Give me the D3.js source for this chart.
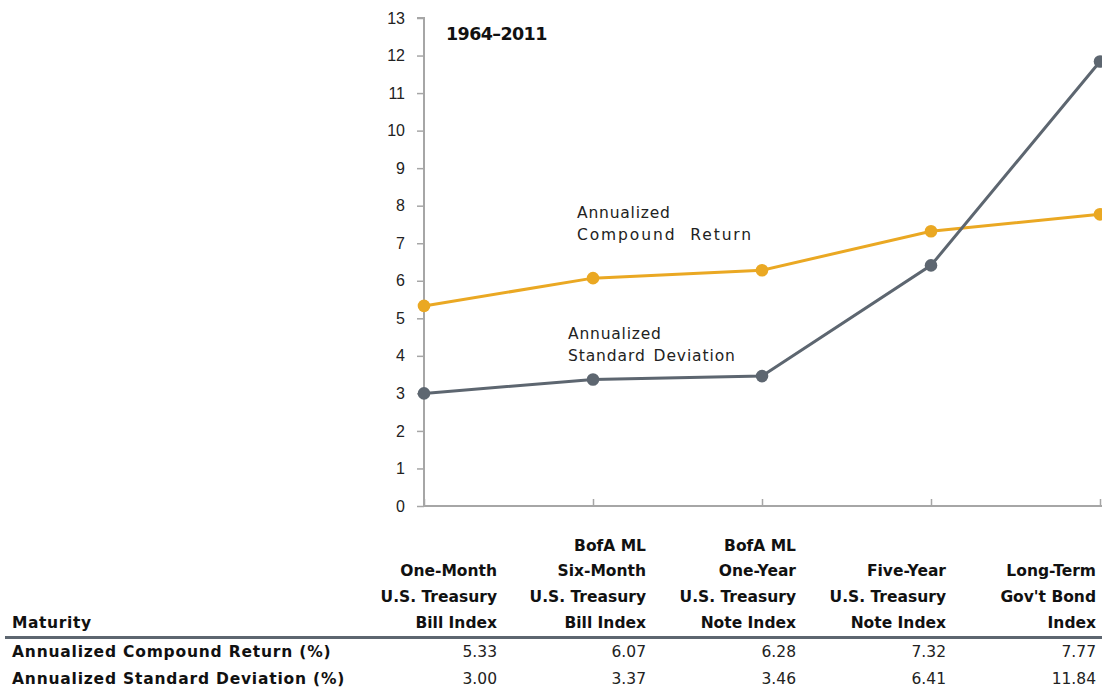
<!DOCTYPE html>
<html>
<head>
<meta charset="utf-8">
<script src="https://cdn.jsdelivr.net/npm/d3@7"></script>
<style>
  body { margin: 0; background: #fff; }
  svg { font-family: "DejaVu Sans", sans-serif; }
</style>
</head>
<body>
<div id="chart"></div>
<script>
// data
var indexNames = [
  ["One-Month", "U.S. Treasury", "Bill Index"],
  ["BofA ML", "Six-Month", "U.S. Treasury", "Bill Index"],
  ["BofA ML", "One-Year", "U.S. Treasury", "Note Index"],
  ["Five-Year", "U.S. Treasury", "Note Index"],
  ["Long-Term", "Gov't Bond", "Index"]
];
var compoundReturn = [5.33, 6.07, 6.28, 7.32, 7.77];
var stdDeviation = [3.00, 3.37, 3.46, 6.41, 11.84];
var yTicks = d3.range(0, 14);
var rowLabels = ["Annualized Compound Return (%)", "Annualized Standard Deviation (%)"];

var W = 1102, H = 690;
var orange = "#eaa823", slate = "#5d6670", axisGray = "#a6a6a6";

var svg = d3.select("#chart").append("svg")
  .attr("width", W)
  .attr("height", H);

var x = d3.scalePoint()
  .domain(d3.range(indexNames.length))
  .range([424, 1100]);

var y = d3.scaleLinear()
  .domain([0, 13])
  .range([506, 18]);

// y axis
var yAxis = svg.append("g")
  .attr("transform", "translate(424,0)")
  .call(d3.axisLeft(y).tickValues(yTicks).tickSize(7).tickPadding(12).tickFormat(d3.format("d")));
yAxis.select(".domain").attr("stroke", axisGray).attr("stroke-width", 2)
  .attr("d", "M-7," + y(13) + "H0V" + y(0));
yAxis.selectAll(".tick line").attr("stroke", axisGray).attr("stroke-width", 1.5);
yAxis.selectAll(".tick text")
  .attr("fill", "#222")
  .style("font-size", "16px");

// x axis, ticks pointing up
var xAxis = svg.append("g")
  .attr("transform", "translate(0,506)")
  .call(d3.axisBottom(x).tickSize(-7).tickFormat(""));
xAxis.select(".domain").attr("stroke", axisGray).attr("stroke-width", 2)
  .attr("d", "M424,0H1102");
xAxis.selectAll(".tick line").attr("stroke", axisGray).attr("stroke-width", 1.5);

// title
svg.append("text")
  .attr("x", 446).attr("y", 40)
  .attr("font-weight", "bold")
  .style("font-size", "17.5px")
  .style("letter-spacing", "-0.6px")
  .attr("fill", "#111")
  .text("1964\u20132011");

var line = d3.line()
  .x(function(d, i) { return x(i); })
  .y(function(d) { return y(d); });

function drawSeries(values, color) {
  svg.append("path")
    .datum(values)
    .attr("d", line)
    .attr("fill", "none")
    .attr("stroke", color)
    .attr("stroke-width", 3);
  svg.selectAll(null)
    .data(values)
    .enter().append("circle")
    .attr("cx", function(d, i) { return x(i); })
    .attr("cy", function(d) { return y(d); })
    .attr("r", 6.3)
    .attr("fill", color);
}
drawSeries(compoundReturn, orange);
drawSeries(stdDeviation, slate);

// series labels: [text, letter-spacing, word-spacing]
function seriesLabel(lines, lx, ly) {
  var t = svg.append("text")
    .attr("x", lx).attr("y", ly)
    .attr("fill", "#222")
    .style("font-size", "15.5px");
  lines.forEach(function(s, i) {
    t.append("tspan").attr("x", lx).attr("dy", i ? 22 : 0)
      .style("letter-spacing", s[1] + "px")
      .style("word-spacing", s[2] + "px")
      .text(s[0]);
  });
}
seriesLabel([["Annualized", 0.8, 0], ["Compound Return", 1.9, 7]], 577, 218);
seriesLabel([["Annualized", 0.8, 0], ["Standard Deviation", 0.9, 2]], 568, 339);

// table
var colRight = [497, 646, 796, 946, 1096];
var headerBase = 628, lineH = 25.8;

indexNames.forEach(function(lines, c) {
  lines.forEach(function(s, j) {
    svg.append("text")
      .attr("x", colRight[c])
      .attr("y", headerBase - (lines.length - 1 - j) * lineH)
      .attr("text-anchor", "end")
      .attr("font-weight", "bold")
      .style("font-size", "15.5px")
      .attr("fill", "#111")
      .text(s);
  });
});

svg.append("text")
  .attr("x", 12).attr("y", headerBase)
  .attr("font-weight", "bold")
  .style("font-size", "15.5px")
  .style("letter-spacing", "0.6px")
  .attr("fill", "#111")
  .text("Maturity");

svg.append("line")
  .attr("x1", 5).attr("x2", W)
  .attr("y1", 637.5).attr("y2", 637.5)
  .attr("stroke", slate)
  .attr("stroke-width", 3);

var rows = [compoundReturn, stdDeviation];
rows.forEach(function(vals, r) {
  var by = 657 + r * 27;
  svg.append("text")
    .attr("x", 12).attr("y", by)
    .attr("font-weight", "bold")
    .style("font-size", "15.5px")
    .style("letter-spacing", "0.8px")
    .attr("fill", "#111")
    .text(rowLabels[r]);
  vals.forEach(function(v, c) {
    svg.append("text")
      .attr("x", colRight[c]).attr("y", by)
      .attr("text-anchor", "end")
      .style("font-size", "15.5px")
      .attr("fill", "#222")
      .text(d3.format(".2f")(v));
  });
});
</script>
</body>
</html>
